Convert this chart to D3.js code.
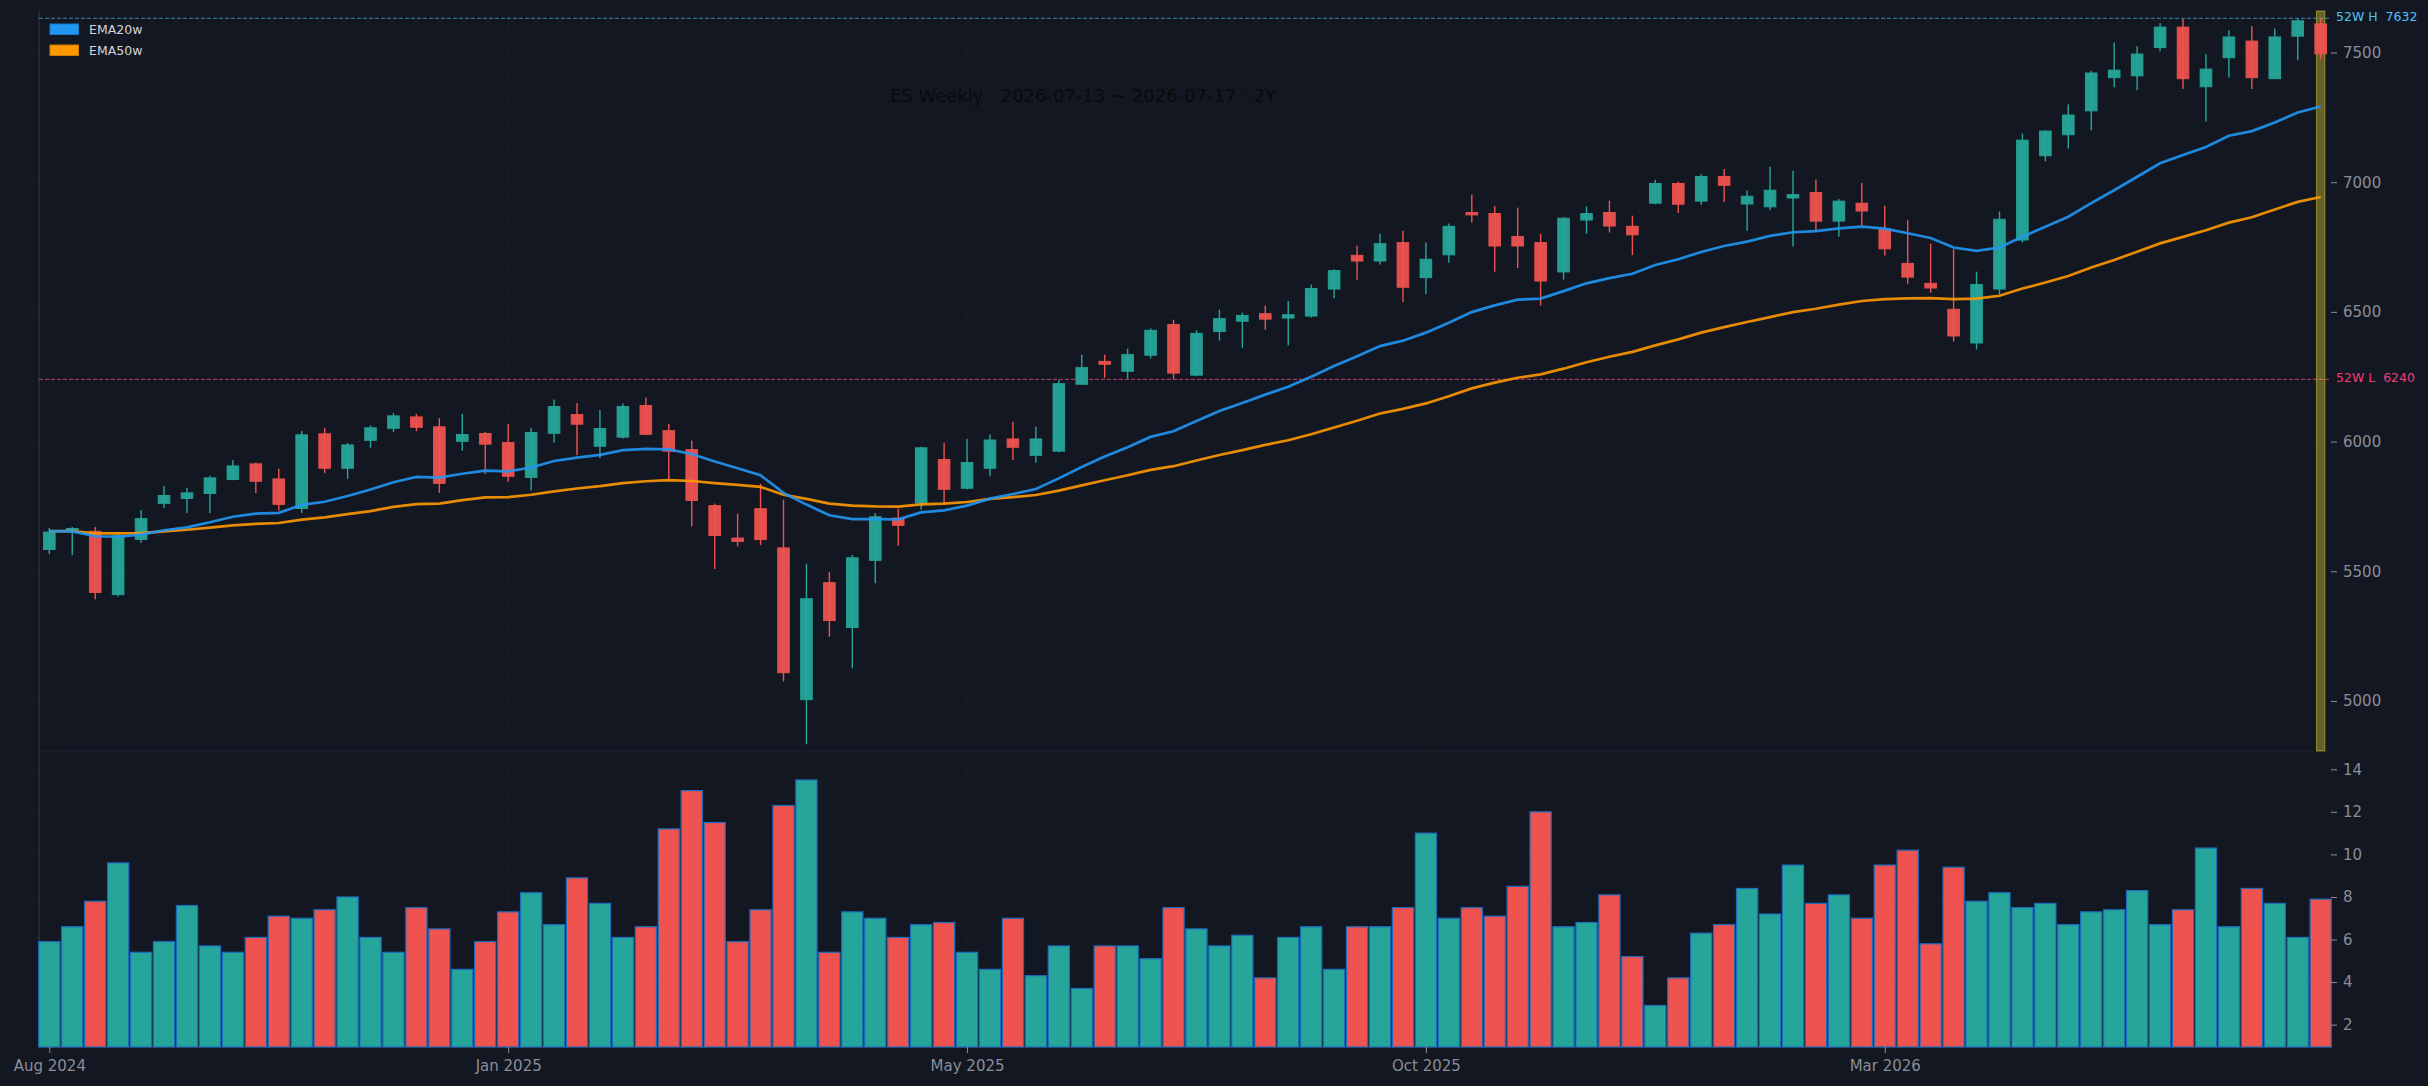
<!DOCTYPE html>
<html>
<head>
<meta charset="utf-8">
<script src="https://cdn.jsdelivr.net/npm/d3@7"></script>
<style>
  html, body { margin: 0; padding: 0; background: #131722; }
  svg { display: block; font-family: "DejaVu Sans", sans-serif; }
</style>
</head>
<body>
<svg id="chart"></svg>
<script>
// Weekly ES candles, Aug 2024 .. Jul 2026 (100 weeks)
const opens = [5584,5659,5654,5410,5623,5762,5781,5800,5854,5914,5856,5742,6030,5897,6005,6051,6095,6057,6001,6031,
  5996,5862,6032,6104,5982,6017,6139,6042,5969,5753,5628,5741,5590,5005,5456,5283,5542,5705,5763,5931,
  5820,5897,6010,5947,5963,6221,6309,6271,6333,6451,6256,6424,6464,6493,6476,6484,6588,6718,6696,6767,
  6632,6720,6883,6879,6791,6767,6654,6854,6883,6830,6919,6995,6927,7022,6916,6905,6939,6960,6850,6919,
  6819,6687,6610,6510,6380,6588,6777,7102,7183,7275,7403,7410,7519,7598,7368,7480,7544,7399,7563,7610];
const highs = [5667,5671,5671,5645,5736,5829,5821,5868,5929,5919,5895,6041,6053,5995,6062,6111,6107,6090,6107,6037,
  6068,6053,6162,6149,6122,6147,6170,6069,6004,5761,5722,5837,5776,5529,5497,5563,5725,5741,5980,5995,
  6010,6027,6076,6057,6237,6335,6335,6358,6436,6470,6429,6508,6497,6524,6542,6606,6664,6755,6801,6813,
  6767,6841,6953,6908,6902,6801,6865,6906,6929,6871,7009,7002,7032,7051,6968,7060,7044,7010,6935,6997,
  6909,6853,6763,6741,6655,6887,7188,7201,7300,7429,7539,7524,7614,7629,7493,7586,7601,7593,7630,7632];
const lows = [5566,5562,5392,5403,5609,5744,5725,5725,5851,5802,5734,5725,5879,5856,5976,6037,6040,5802,5965,5875,
  5844,5811,5995,5947,5937,6012,6024,5853,5673,5508,5596,5601,5075,4833,5248,5126,5454,5598,5737,5757,
  5815,5866,5929,5918,5959,6218,6246,6242,6320,6240,6252,6390,6362,6431,6371,6478,6553,6624,6683,6538,
  6569,6689,6845,6655,6669,6524,6624,6801,6806,6719,6915,6881,6913,6924,6813,6892,6752,6811,6790,6831,
  6717,6608,6573,6386,6355,6568,6767,7080,7130,7200,7366,7354,7505,7359,7234,7404,7359,7399,7470,7474];
const closes = [5651,5665,5418,5637,5703,5792,5802,5860,5906,5847,5758,6026,5897,5987,6053,6099,6055,5839,6027,5990,
  5866,6035,6135,6067,6050,6135,6028,5963,5773,5638,5615,5622,5109,5394,5310,5552,5710,5677,5976,5816,
  5919,6006,5978,6010,6223,6285,6298,6335,6429,6264,6417,6474,6486,6472,6489,6590,6659,6696,6763,6595,
  6703,6830,6874,6754,6754,6619,6861,6879,6831,6797,6995,6915,7022,6988,6946,6969,6952,6850,6927,6889,
  6743,6634,6592,6407,6606,6857,7162,7197,7259,7421,7432,7494,7598,7399,7436,7560,7403,7560,7622,7495];
// volume, millions of contracts
const volumes = [5.9,6.6,7.8,9.6,5.4,5.9,7.6,5.7,5.4,6.1,7.1,7.0,7.4,8.0,6.1,5.4,7.5,6.5,4.6,5.9,
  7.3,8.2,6.7,8.9,7.7,6.1,6.6,11.2,13.0,11.5,5.9,7.4,12.3,13.5,5.4,7.3,7.0,6.1,6.7,6.8,
  5.4,4.6,7.0,4.3,5.7,3.7,5.7,5.7,5.1,7.5,6.5,5.7,6.2,4.2,6.1,6.6,4.6,6.6,6.6,7.5,
  11.0,7.0,7.5,7.1,8.5,12.0,6.6,6.8,8.1,5.2,2.9,4.2,6.3,6.7,8.4,7.2,9.5,7.7,8.1,7.0,
  9.5,10.2,5.8,9.4,7.8,8.2,7.5,7.7,6.7,7.3,7.4,8.3,6.7,7.4,10.3,6.6,8.4,7.7,6.1,7.9];
const ema20 = [5655,5654,5635,5633,5641,5658,5669,5689,5710,5722,5725,5756,5768,5790,5815,5843,5864,5861,5876,5888,
  5885,5900,5925,5938,5949,5967,5972,5970,5952,5923,5897,5870,5802,5757,5716,5701,5701,5700,5727,5735,
  5753,5780,5798,5817,5858,5902,5942,5978,6018,6040,6079,6118,6149,6181,6211,6250,6291,6329,6368,6389,
  6420,6458,6499,6525,6547,6551,6580,6610,6630,6647,6681,6703,6731,6754,6771,6793,6807,6811,6822,6829,
  6821,6803,6785,6748,6735,6748,6790,6828,6867,6919,6969,7021,7073,7105,7136,7179,7197,7230,7269,7292];
const ema50 = [5655,5655,5646,5646,5647,5654,5660,5668,5677,5683,5686,5699,5708,5720,5732,5748,5759,5761,5774,5785,
  5786,5795,5808,5819,5828,5840,5847,5851,5848,5840,5833,5825,5795,5779,5761,5753,5750,5749,5758,5761,
  5767,5779,5786,5794,5811,5831,5851,5870,5891,5905,5927,5948,5967,5987,6005,6028,6054,6080,6108,6126,
  6147,6175,6205,6227,6246,6259,6281,6306,6327,6346,6371,6394,6420,6441,6461,6480,6499,6512,6528,6542,
  6549,6552,6553,6549,6551,6562,6590,6613,6638,6671,6700,6732,6764,6789,6815,6844,6865,6895,6924,6943];

const xTickIdx = [0, 20, 40, 60, 80];
const xTickLabels = ['Aug 2024', 'Jan 2025', 'May 2025', 'Oct 2025', 'Mar 2026'];
const priceTicks = [5000, 5500, 6000, 6500, 7000, 7500];
const volTicks = [2, 4, 6, 8, 10, 12, 14];
const high52 = 7632;
const low52 = 6240;
const titleText = 'ES Weekly · 2026-07-13 ~ 2026-07-17 · 2Y';

const WIDTH = 2428;
const HEIGHT = 1086;
const UP = '#26a69a';
const DOWN = '#ef5350';
const AXIS_TEXT = '#8a8d97';
const GRID = '#2a2e39';

const left = 39, right = 2331;
const priceTop = 11, priceBottom = 751, volBottom = 1047;

let svg = d3.select('#chart')
    .attr('width', WIDTH)
    .attr('height', HEIGHT);

svg.append('rect')
    .attr('width', WIDTH)
    .attr('height', HEIGHT)
    .attr('fill', '#131722');

let n = closes.length;
let x = d3.scaleLinear()
    .domain([-0.45, n - 0.55])
    .range([left, right]);
let yPrice = d3.scaleLinear()
    .domain([4807, 7660])
    .range([priceBottom, priceTop]);
let yVol = d3.scaleLinear()
    .domain([0.95, 14.86])
    .range([volBottom, priceBottom]);

// grid
let grid = svg.append('g')
    .attr('stroke', GRID)
    .attr('stroke-dasharray', '3,3')
    .attr('opacity', 0.4);
grid.selectAll('.hp')
    .data(priceTicks)
    .enter().append('line')
    .attr('x1', left).attr('x2', right)
    .attr('y1', d => yPrice(d)).attr('y2', d => yPrice(d));
grid.selectAll('.hv')
    .data(volTicks)
    .enter().append('line')
    .attr('x1', left).attr('x2', right)
    .attr('y1', d => yVol(d)).attr('y2', d => yVol(d));
grid.selectAll('.vx')
    .data(xTickIdx)
    .enter().append('line')
    .attr('x1', d => x(d)).attr('x2', d => x(d))
    .attr('y1', priceTop).attr('y2', volBottom);

// spines
svg.append('line')
    .attr('x1', left).attr('x2', left)
    .attr('y1', priceTop).attr('y2', volBottom)
    .attr('stroke', '#363a45');
svg.append('line')
    .attr('x1', left).attr('x2', right)
    .attr('y1', volBottom).attr('y2', volBottom)
    .attr('stroke', '#363a45');
svg.append('line')
    .attr('x1', left).attr('x2', right)
    .attr('y1', priceBottom).attr('y2', priceBottom)
    .attr('stroke', '#1f232e');

// 52 week high / low
const levels = [
    { v: high52, label: '52W H  ' + high52, line: '#3f86b0', text: '#4fc3f7' },
    { v: low52, label: '52W L  ' + low52, line: '#c2416d', text: '#ec407a' }
];
levels.forEach(l => {
    svg.append('line')
        .attr('x1', left).attr('x2', right)
        .attr('y1', yPrice(l.v)).attr('y2', yPrice(l.v))
        .attr('stroke', l.line)
        .attr('stroke-dasharray', '4,2');
    svg.append('text')
        .attr('x', right + 5)
        .attr('y', yPrice(l.v) - 2)
        .attr('dy', '0.35em')
        .attr('fill', l.text)
        .attr('font-size', 12.5)
        .style('white-space', 'pre')
        .text(l.label);
});

// current week highlight
svg.append('rect')
    .attr('x', x(n - 1) - 4.2)
    .attr('width', 8.4)
    .attr('y', priceTop)
    .attr('height', priceBottom - priceTop)
    .attr('fill', 'rgba(255,235,59,0.35)')
    .attr('stroke', 'rgba(255,235,59,0.45)');

// candles
let candles = svg.append('g')
    .selectAll('g')
    .data(d3.range(n))
    .enter().append('g')
    .attr('fill', i => closes[i] >= opens[i] ? UP : DOWN)
    .attr('stroke', i => closes[i] >= opens[i] ? UP : DOWN);
candles.append('line')
    .attr('x1', i => x(i)).attr('x2', i => x(i))
    .attr('y1', i => yPrice(highs[i])).attr('y2', i => yPrice(lows[i]))
    .attr('stroke-width', 1.4);
candles.append('rect')
    .attr('x', i => x(i) - 5.8)
    .attr('width', 11.6)
    .attr('y', i => yPrice(Math.max(opens[i], closes[i])))
    .attr('height', i => Math.max(1.5, Math.abs(yPrice(opens[i]) - yPrice(closes[i]))))
    .attr('stroke-width', 1)
    .attr('opacity', 0.95);

// EMA lines
let emaLine = d3.line()
    .x((d, i) => x(i))
    .y(d => yPrice(d));
svg.append('path')
    .attr('d', emaLine(ema50))
    .attr('fill', 'none')
    .attr('stroke', '#ff9800')
    .attr('stroke-opacity', 0.9)
    .attr('stroke-width', 2.7);
svg.append('path')
    .attr('d', emaLine(ema20))
    .attr('fill', 'none')
    .attr('stroke', '#2196f3')
    .attr('stroke-opacity', 0.9)
    .attr('stroke-width', 2.7);

// volume
svg.append('g')
    .selectAll('rect')
    .data(volumes)
    .enter().append('rect')
    .attr('x', (d, i) => x(i) - 10.6)
    .attr('width', 21.2)
    .attr('y', d => yVol(d))
    .attr('height', d => volBottom - yVol(d))
    .attr('fill', (d, i) => closes[i] >= opens[i] ? UP : DOWN)
    .attr('stroke', '#1d6cbd')
    .attr('stroke-width', 1.2);

// axes
function styleAxis(g) {
    g.select('.domain').remove();
    g.selectAll('.tick line').attr('stroke', AXIS_TEXT);
    g.selectAll('.tick text')
        .attr('fill', AXIS_TEXT)
        .attr('font-size', 15)
        .attr('font-family', '"DejaVu Sans", sans-serif');
}
svg.append('g')
    .attr('transform', `translate(${right}, 0)`)
    .call(d3.axisRight(yPrice).tickValues(priceTicks).tickFormat(d3.format('d')).tickSize(6).tickPadding(6))
    .call(styleAxis);
svg.append('g')
    .attr('transform', `translate(${right}, 0)`)
    .call(d3.axisRight(yVol).tickValues(volTicks).tickFormat(d3.format('d')).tickSize(6).tickPadding(6))
    .call(styleAxis);
svg.append('g')
    .attr('transform', `translate(0, ${volBottom})`)
    .call(d3.axisBottom(x).tickValues(xTickIdx).tickFormat((d, i) => xTickLabels[i]).tickSize(6).tickPadding(7))
    .call(styleAxis);

// legend
const legendItems = [
    { label: 'EMA20w', fill: '#2196f3', stroke: '#1a78c2' },
    { label: 'EMA50w', fill: '#ff9800', stroke: '#cc7a00' }
];
let legend = svg.append('g')
    .selectAll('g')
    .data(legendItems)
    .enter().append('g')
    .attr('transform', (d, i) => `translate(50, ${24 + i * 21})`);
legend.append('rect')
    .attr('width', 28.5)
    .attr('height', 10.5)
    .attr('fill', d => d.fill)
    .attr('stroke', d => d.stroke);
legend.append('text')
    .attr('x', 39)
    .attr('y', 5.5)
    .attr('dy', '0.35em')
    .attr('fill', '#d1d4dc')
    .attr('font-size', 12.5)
    .text(d => d.label);

// title
svg.append('text')
    .attr('x', 890)
    .attr('y', 102)
    .attr('fill', '#0a0a0a')
    .attr('font-size', 18)
    .text(titleText);
</script>
</body>
</html>
